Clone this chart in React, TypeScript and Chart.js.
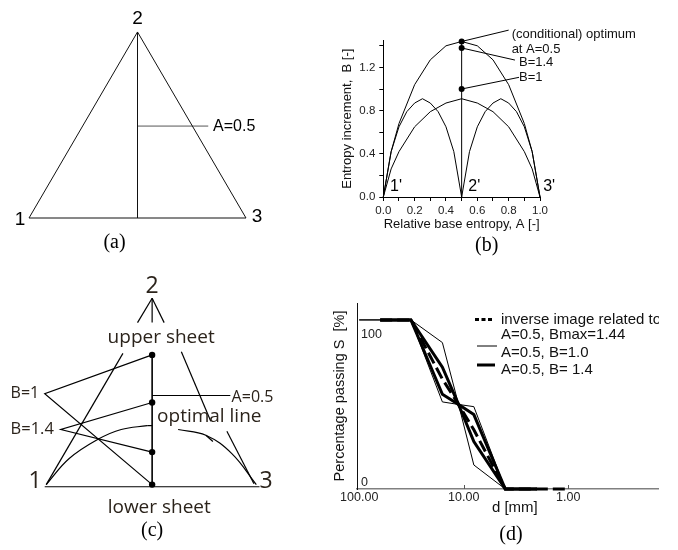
import React, { useEffect, useRef } from 'react';
import { Chart, registerables } from 'chart.js';
Chart.register(...registerables);

if (typeof document !== 'undefined') document.body.style.margin = '0';

const SANS = '"Liberation Sans", Arial, sans-serif';
const SERIF = '"Liberation Serif", "Times New Roman", serif';
const CSANS = '"Open Sans", "DejaVu Sans", sans-serif';
const CTEXT = '#2b231b';

type Pt = [number, number];

// ---------------- Panel (a): ternary triangle (unit coordinates) ----------------
const aTriangle: Pt[] = [[0, 0], [1, 0], [0.5, 0.866], [0, 0]];
const aMedian: Pt[] = [[0.5, 0], [0.5, 0.866]];
const aMarkA: Pt[] = [[0.5, 0.428], [0.826, 0.428]];

// ---------------- Panel (b): entropy increment vs relative base entropy ----------------
const bA = [0, 0.05, 0.1, 0.2, 0.3, 0.4, 0.5, 0.6, 0.7, 0.8, 0.9, 0.95, 1.0];
const bOuter = [0, 0.42, 0.68, 1.04, 1.27, 1.4, 1.44, 1.4, 1.27, 1.04, 0.68, 0.42, 0];
const bMiddle = [0, 0.26, 0.42, 0.65, 0.79, 0.87, 0.91, 0.87, 0.79, 0.65, 0.42, 0.26, 0];
const bHalfA = [0, 0.05, 0.1, 0.15, 0.2, 0.25, 0.3, 0.35, 0.4, 0.45, 0.5];
const bHalfA2 = [0.5, 0.55, 0.6, 0.65, 0.7, 0.75, 0.8, 0.85, 0.9, 0.95, 1.0];
const bHump = [0, 0.42, 0.65, 0.79, 0.87, 0.91, 0.87, 0.79, 0.65, 0.42, 0];
const bMarkers = [1.44, 1.38, 1.0];

// ---------------- Panel (c): sketch (unit coordinates) ----------------
const cBase: Pt[] = [[0, 0], [1, 0]];
const cOptimal: Pt[] = [[0.5, 0], [0.5, 0.617]];
const cDots: Pt[] = [[0.5, 0.617], [0.5, 0.394], [0.5, 0.162], [0.5, 0.01]];
const cAMark: Pt[] = [[0.5, 0.427], [0.864, 0.427]];
const cB1: Pt[] = [[0.5, 0.617], [0, 0.435], [0.5, 0.01]];
const cB14: Pt[] = [[0.5, 0.394], [0.075, 0.268], [0.5, 0.162]];
const cApex1: Pt[] = [[0.5, 0.882], [0.432, 0.768]];
const cApex2: Pt[] = [[0.5, 0.882], [0.5, 0.768]];
const cApex3: Pt[] = [[0.5, 0.882], [0.556, 0.768]];
const cLeftEdge: Pt[] = [[0.007, 0.01], [0.364, 0.624]];
const cLeftArc: Pt[] = [[0.007, 0.01], [0.114, 0.132], [0.25, 0.223], [0.356, 0.268], [0.477, 0.286]];
const cLeftArcTick: Pt[] = [[0.477, 0.286], [0.5, 0.286]];
const cRightEdge: Pt[] = [[0.636, 0.632], [0.773, 0.306]];
const cRightArc: Pt[] = [[0.621, 0.268], [0.75, 0.241], [0.871, 0.155], [0.985, 0.01]];
const cRightTick: Pt[] = [[0.75, 0.241], [0.783, 0.212]];
const cRightLine: Pt[] = [[0.848, 0.26], [0.974, 0.014]];

// ---------------- Panel (d): grading curves ----------------
const dTickVals = [100, 10, 1, 0.1];
const dYLabels = [100, 0];
const dThinSizes = [100, 32, 16, 11.2, 8, 4];
const dB10a = [100, 100, 86.6, 50, 48.7, 0];
const dB10b = [100, 100, 51.5, 50, 14.2, 0];
const dThickSizes = [63, 32, 16, 11.2, 8, 4, 2];
const dB14a = [100, 100, 72, 50, 44, 0, 0];
const dB14b = [100, 100, 56, 50, 28, 0, 0];
const dInvSizes = [63, 32, 16, 11.2, 8, 4, 2, 1];
const dInv = [100, 100, 65, 50, 35, 0, 0, 0];

// ---------------- helpers ----------------
const toXY = (pts: Pt[]) => pts.map(([x, y]) => ({ x, y }));
const zipXY = (xs: number[], ys: number[]) => xs.map((x, i) => ({ x, y: ys[i] }));

function frame(size: number, origin: number, unit: number, flip: boolean): [number, number] {
  if (!flip) {
    const min = -origin / unit;
    return [min, min + size / unit];
  }
  const max = origin / unit;
  return [max - size / unit, max];
}

const line = (data: { x: number; y: number }[], w = 1, extra: any = {}) => ({
  data,
  showLine: true,
  borderColor: '#000',
  borderWidth: w,
  pointRadius: 0,
  pointHoverRadius: 0,
  fill: false,
  tension: 0,
  clip: false,
  ...extra,
});

type Lbl = { x: number; y: number; text: string; font: string; align?: CanvasTextAlign; color?: string };
function labelsPlugin(items: Lbl[]) {
  return {
    id: 'labels',
    afterDatasetsDraw(chart: any) {
      const { ctx, scales } = chart;
      ctx.save();
      for (const it of items) {
        ctx.font = it.font;
        ctx.fillStyle = it.color ?? '#000';
        ctx.textAlign = it.align ?? 'left';
        ctx.textBaseline = 'middle';
        ctx.fillText(it.text, scales.x.getPixelForValue(it.x), scales.y.getPixelForValue(it.y));
      }
      ctx.restore();
    },
  };
}

const common = {
  animation: false,
  responsive: false,
  devicePixelRatio: 1,
  events: [],
  plugins: { legend: { display: false }, tooltip: { enabled: false } },
};

function hiddenScales(xr: [number, number], yr: [number, number]) {
  return {
    x: { type: 'linear', display: false, min: xr[0], max: xr[1] },
    y: { type: 'linear', display: false, min: yr[0], max: yr[1] },
  };
}

// ---------------- configs ----------------
function makeA(): any {
  const xr = frame(340, 29, 217, false);
  const yr = frame(270, 218, 214.8, true);
  const f = (s: number) => `${s}px ${SANS}`;
  return {
    type: 'scatter',
    data: {
      datasets: [
        line(toXY(aTriangle), 1, { borderColor: '#111' }),
        line(toXY(aMedian), 1, { borderColor: '#111' }),
        line(toXY(aMarkA), 1, { borderColor: '#555' }),
      ],
    },
    options: { ...common, layout: { padding: 0 }, scales: hiddenScales(xr, yr) },
    plugins: [
      labelsPlugin([
        { x: 0.5, y: 0.926, text: '2', font: f(19), align: 'center' },
        { x: -0.041, y: -0.009, text: '1', font: f(19), align: 'center' },
        { x: 1.051, y: 0.007, text: '3', font: f(19), align: 'center' },
        { x: 0.848, y: 0.424, text: 'A=0.5', font: f(16) },
        { x: 0.394, y: -0.116, text: '(a)', font: `20px ${SERIF}`, align: 'center' },
      ]),
    ],
  };
}

function makeB(): any {
  const tickFont = { family: SANS, size: 11.5 };
  const titleFont = { family: SANS, size: 13 };
  const f = (s: number) => `${s}px ${SANS}`;
  return {
    type: 'scatter',
    data: {
      datasets: [
        line(zipXY(bA, bOuter)),
        line(zipXY(bA, bMiddle)),
        line(zipXY(bHalfA, bHump)),
        line(zipXY(bHalfA2, bHump)),
        line(zipXY([0.5, 0.5], [0, 1.44])),
        line(zipXY([0.5, 0.8], [1.44, 1.545])),
        line(zipXY([0.5, 0.84], [1.38, 1.268])),
        line(zipXY([0.5, 0.866], [1.0, 1.108])),
        {
          data: bMarkers.map((y) => ({ x: 0.5, y })),
          showLine: false,
          pointRadius: 3,
          pointStyle: 'circle',
          pointBackgroundColor: '#000',
          pointBorderColor: '#000',
          pointBorderWidth: 0,
          clip: false,
        },
      ],
    },
    options: {
      ...common,
      layout: { padding: { left: 0, right: 138, top: 40.4, bottom: 38.2 } },
      scales: {
        x: {
          type: 'linear',
          min: 0,
          max: 1,
          bounds: 'data',
          afterFit: (s: any) => { s.height = 34.8; },
          ticks: {
            stepSize: 0.1,
            autoSkip: false,
            maxRotation: 0,
            includeBounds: false,
            color: '#222',
            font: tickFont,
            padding: 3,
            callback: (v: any, i: number) => (i % 2 === 0 ? Number(v).toFixed(1) : ''),
          },
          grid: { display: true, drawOnChartArea: false, drawTicks: true, tickLength: 4, color: '#000' },
          border: { display: true, color: '#000', width: 1 },
          title: { display: true, text: 'Relative base entropy, A [-]', font: titleFont, color: '#111', padding: 0 },
        },
        y: {
          type: 'linear',
          min: 0,
          max: 1.45,
          bounds: 'data',
          afterFit: (s: any) => { s.width = 43.3; },
          ticks: {
            stepSize: 0.2,
            autoSkip: false,
            includeBounds: false,
            color: '#222',
            font: tickFont,
            padding: 4,
            callback: (v: any, i: number) => (i % 2 === 0 ? Number(v).toFixed(1) : ''),
          },
          grid: { display: true, drawOnChartArea: false, drawTicks: true, tickLength: 4, color: '#000' },
          border: { display: true, color: '#000', width: 1 },
          title: { display: true, text: 'Entropy increment,  B [-]', font: titleFont, color: '#111', padding: 0 },
        },
      },
    },
    plugins: [
      labelsPlugin([
        { x: 0.043, y: 0.095, text: "1'", font: f(16) },
        { x: 0.542, y: 0.095, text: "2'", font: f(16) },
        { x: 1.02, y: 0.095, text: "3'", font: f(16) },
        { x: 0.819, y: 1.506, text: '(conditional) optimum', font: f(13), color: '#111' },
        { x: 0.819, y: 1.37, text: 'at A=0.5', font: f(13), color: '#111' },
        { x: 0.866, y: 1.245, text: 'B=1.4', font: f(13), color: '#111' },
        { x: 0.866, y: 1.108, text: 'B=1', font: f(13), color: '#111' },
        { x: 0.66, y: -0.454, text: '(b)', font: `20px ${SERIF}`, align: 'center' },
      ]),
    ],
  };
}

function makeC(): any {
  const xr = frame(340, 41.7, 220, false);
  const yr = frame(280, 219, 220, true);
  const f = (s: number) => `${s}px ${CSANS}`;
  const w = 1.2;
  return {
    type: 'scatter',
    data: {
      datasets: [
        line(toXY(cBase), w),
        line(toXY(cOptimal), 1.6),
        line(toXY(cAMark), w),
        line(toXY(cB1), w),
        line(toXY(cB14), w),
        line(toXY(cApex1), w),
        line(toXY(cApex2), w),
        line(toXY(cApex3), w),
        line(toXY(cLeftEdge), w),
        line(toXY(cLeftArc), w, { tension: 0.4 }),
        line(toXY(cLeftArcTick), w),
        line(toXY(cRightEdge), w),
        line(toXY(cRightArc), w, { tension: 0.4 }),
        line(toXY(cRightTick), w),
        line(toXY(cRightLine), w),
        {
          data: toXY(cDots),
          showLine: false,
          pointRadius: 3.2,
          pointBackgroundColor: '#000',
          pointBorderWidth: 0,
          clip: false,
        },
      ],
    },
    options: { ...common, layout: { padding: 0 }, scales: hiddenScales(xr, yr) },
    plugins: [
      labelsPlugin([
        { x: 0.5, y: 0.935, text: '2', font: f(23), align: 'center', color: CTEXT },
        { x: -0.045, y: 0.026, text: '1', font: f(23), align: 'center', color: CTEXT },
        { x: 1.03, y: 0.026, text: '3', font: f(23), align: 'center', color: CTEXT },
        { x: 0.542, y: 0.7, text: 'upper sheet', font: f(19), align: 'center', color: CTEXT },
        { x: 0.87, y: 0.417, text: 'A=0.5', font: f(16), color: CTEXT },
        { x: 0.523, y: 0.329, text: 'optimal line', font: f(19), color: CTEXT },
        { x: -0.159, y: 0.436, text: 'B=1', font: f(16), color: CTEXT },
        { x: -0.159, y: 0.268, text: 'B=1.4', font: f(16.5), color: CTEXT },
        { x: 0.533, y: -0.099, text: 'lower sheet', font: f(19), align: 'center', color: CTEXT },
        { x: 0.5, y: -0.204, text: '(c)', font: `20px ${SERIF}`, align: 'center' },
      ]),
    ],
  };
}

type LegendEntry = { ds: number; sx0: number; sx1: number; sy: number; lines: string[]; ty: number[] };
const dLegend: LegendEntry[] = [
  { ds: 0, sx0: 118, sx1: 135, sy: 16.5, lines: ['inverse image related to', 'A=0.5, Bmax=1.44'], ty: [17, 32] },
  { ds: 3, sx0: 120, sx1: 140, sy: 43, lines: ['A=0.5, B=1.0'], ty: [49.5] },
  { ds: 1, sx0: 120, sx1: 138, sy: 62, lines: ['A=0.5, B= 1.4'], ty: [67] },
];

function dExtras() {
  return {
    id: 'dExtras',
    afterDraw(chart: any) {
      const { ctx, scales, chartArea } = chart;
      const x = scales.x, y = scales.y;
      ctx.save();
      ctx.strokeStyle = '#555';
      ctx.lineWidth = 1;
      for (const v of dTickVals) {
        if (v === 100) continue;
        const px = Math.round(x.getPixelForValue(v)) + 0.5;
        ctx.beginPath();
        ctx.moveTo(px, chartArea.bottom);
        ctx.lineTo(px, chartArea.bottom - 4);
        ctx.stroke();
      }
      ctx.font = `12.5px ${SANS}`;
      ctx.fillStyle = '#222';
      ctx.textAlign = 'left';
      ctx.textBaseline = 'middle';
      for (const v of dYLabels) {
        ctx.fillText(String(v), chartArea.left + 4, y.getPixelForValue(v) + (v === 100 ? 15 : -6));
      }
      // legend
      const L = chartArea.left, T = chartArea.top;
      for (const e of dLegend) {
        const ds = chart.data.datasets[e.ds];
        ctx.strokeStyle = '#000';
        ctx.lineWidth = ds.borderWidth;
        ctx.setLineDash(e.ds === 0 ? [4, 2.5] : []);
        ctx.beginPath();
        ctx.moveTo(L + e.sx0, T + e.sy);
        ctx.lineTo(L + e.sx1, T + e.sy);
        ctx.stroke();
        ctx.setLineDash([]);
        ctx.font = `15px ${SANS}`;
        ctx.fillStyle = '#111';
        e.lines.forEach((t, i) => ctx.fillText(t, L + 144, T + e.ty[i]));
      }
      ctx.restore();
    },
  };
}

function makeD(): any {
  return {
    type: 'scatter',
    data: {
      datasets: [
        line(zipXY(dInvSizes, dInv), 3, { borderDash: [12, 5] }),
        line(zipXY(dThickSizes, dB14a), 3),
        line(zipXY(dThickSizes, dB14b), 3),
        line(zipXY(dThinSizes, dB10a), 1),
        line(zipXY(dThinSizes, dB10b), 1),
      ],
    },
    options: {
      ...common,
      layout: { padding: { left: 0, right: 27.3, top: 23, bottom: 32.7 } },
      scales: {
        x: {
          type: 'logarithmic',
          min: 0.1,
          max: 105,
          reverse: true,
          afterBuildTicks: (s: any) => { s.ticks = dTickVals.map((v) => ({ value: v })); },
          afterFit: (s: any) => { s.height = 28.3; },
          ticks: {
            autoSkip: false,
            maxRotation: 0,
            color: '#222',
            font: { family: SANS, size: 12.5 },
            padding: 1,
            callback: (v: any) => Number(v).toFixed(2),
          },
          grid: { display: false, drawTicks: false },
          border: { display: true, color: '#808080', width: 1.5 },
          title: { display: true, text: 'd [mm]', font: { family: SANS, size: 15 }, color: '#111', padding: 0 },
        },
        y: {
          type: 'linear',
          min: 0,
          max: 110,
          afterFit: (s: any) => { s.width = 29; },
          ticks: { display: false },
          grid: { display: false, drawTicks: false },
          border: { display: true, color: '#111', width: 1 },
          title: {
            display: true,
            text: 'Percentage passing S  [%]',
            font: { family: SANS, size: 14.5 },
            color: '#111',
            padding: { top: 3.3, bottom: 0 },
          },
        },
      },
    },
    plugins: [dExtras()],
  };
}

// ---------------- components ----------------
function ChartBox(props: { left: number; top: number; width: number; height: number; clipWidth?: number; make: () => any }) {
  const ref = useRef<HTMLCanvasElement>(null);
  useEffect(() => {
    const chart = new Chart(ref.current as HTMLCanvasElement, props.make());
    return () => chart.destroy();
  }, [props.make]);
  return (
    <div
      style={{
        position: 'absolute',
        left: props.left,
        top: props.top,
        width: props.clipWidth ?? props.width,
        height: props.height,
        overflow: 'hidden',
      }}
    >
      <canvas ref={ref} width={props.width} height={props.height} style={{ display: 'block', width: props.width, height: props.height }} />
    </div>
  );
}

export default function App() {
  return (
    <div style={{ position: 'relative', width: 678, height: 550, overflow: 'hidden', background: '#fff' }}>
      <ChartBox left={0} top={0} width={340} height={270} make={makeA} />
      <ChartBox left={340} top={0} width={338} height={270} make={makeB} />
      <ChartBox left={0} top={270} width={340} height={280} make={makeC} />
      <ChartBox left={328} top={280} width={372} height={270} clipWidth={331} make={makeD} />
      <div
        style={{
          position: 'absolute',
          left: 491,
          top: 521,
          width: 40,
          textAlign: 'center',
          font: `20px ${SERIF}`,
          lineHeight: '24px',
          color: '#000',
        }}
      >
        (d)
      </div>
    </div>
  );
}
